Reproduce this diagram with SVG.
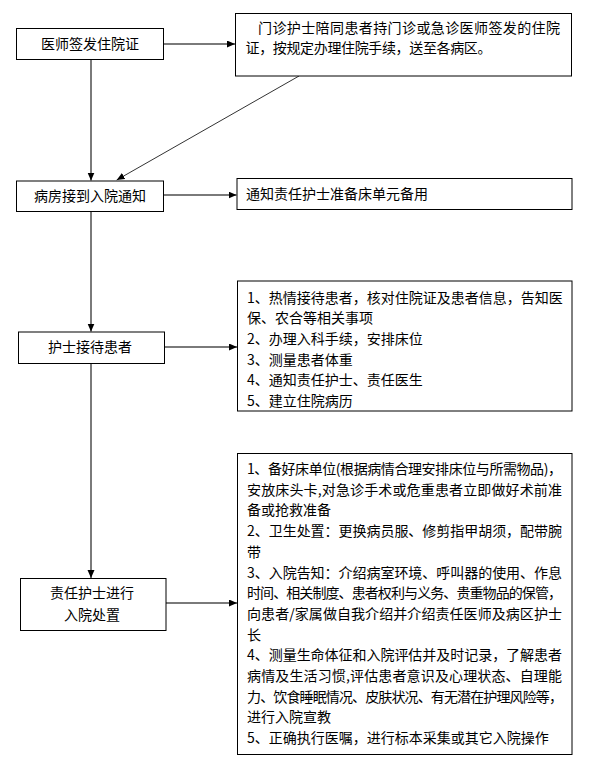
<svg xmlns="http://www.w3.org/2000/svg" width="609" height="765" viewBox="0 0 609 765">
<defs>
<style>
.box{fill:#fff;stroke:#000;stroke-width:1}
.t{font-family:"Noto Sans CJK SC","Liberation Sans",sans-serif;font-size:14px;fill:#000}
.c{text-anchor:middle}
.ln{stroke:#7a7a7a;stroke-width:2;fill:none}
.dg{stroke:#333;stroke-width:1;fill:none}
</style>
<marker id="ah" markerUnits="userSpaceOnUse" markerWidth="9" markerHeight="8" refX="8" refY="3.5" orient="auto">
<path d="M0,0 L8,3.5 L0,7 z" fill="#000"/>
</marker>
</defs>
<rect width="609" height="765" fill="#fff"/>
<g id="connectors">
<line class="ln" x1="91" y1="59.5" x2="91" y2="180.5" marker-end="url(#ah)"/>
<line class="ln" x1="91" y1="211.5" x2="91" y2="331.5" marker-end="url(#ah)"/>
<line class="ln" x1="91" y1="363.5" x2="91" y2="578" marker-end="url(#ah)"/>
<line class="ln" x1="163.5" y1="44" x2="235" y2="44" marker-end="url(#ah)"/>
<line class="ln" x1="163.5" y1="195" x2="236.5" y2="195" marker-end="url(#ah)"/>
<line class="ln" x1="164.5" y1="347" x2="237" y2="347" marker-end="url(#ah)"/>
<line class="ln" x1="166" y1="603" x2="237" y2="603" marker-end="url(#ah)"/>
<line class="dg" x1="299" y1="76" x2="116.7" y2="180" marker-end="url(#ah)"/>
</g>
<g id="n1">
<rect class="box" x="16.5" y="28.5" width="147" height="31"/>
<text class="t c" x="90" y="48.5">医师签发住院证</text>
</g>
<g id="n2">
<rect class="box" x="235.5" y="13.5" width="336" height="62.5"/>
<text class="t" x="258" y="33" textLength="302">门诊护士陪同患者持门诊或急诊医师签发的住院</text>
<text class="t" x="245.5" y="53" textLength="246">证，按规定办理住院手续，送至各病区。</text>
</g>
<g id="n3">
<rect class="box" x="16.5" y="181" width="147" height="30.5"/>
<text class="t c" x="90" y="201">病房接到入院通知</text>
</g>
<g id="n4">
<rect class="box" x="237" y="178.5" width="335" height="31"/>
<text class="t" x="246" y="198.5">通知责任护士准备床单元备用</text>
</g>
<g id="n5">
<rect class="box" x="18.5" y="332" width="146" height="31.5"/>
<text class="t c" x="90" y="352.3">护士接待患者</text>
</g>
<g id="n6">
<rect class="box" x="237.5" y="281" width="334.5" height="130"/>
<text class="t" x="247" y="302.7">1、热情接待患者，核对住院证及患者信息，告知医</text>
<text class="t" x="247" y="323.3">保、农合等相关事项</text>
<text class="t" x="247" y="343.9">2、办理入科手续，安排床位</text>
<text class="t" x="247" y="364.5">3、测量患者体重</text>
<text class="t" x="247" y="385.1">4、通知责任护士、责任医生</text>
<text class="t" x="247" y="405.7">5、建立住院病历</text>
</g>
<g id="n7">
<rect class="box" x="20.5" y="578.5" width="145.5" height="52"/>
<text class="t c" x="92" y="598.3">责任护士进行</text>
<text class="t c" x="92" y="620">入院处置</text>
</g>
<g id="n8">
<rect class="box" x="237.5" y="453.5" width="334.5" height="301"/>
<text class="t" x="247" y="474" textLength="315">1、备好床单位(根据病情合理安排床位与所需物品)，</text>
<text class="t" x="247" y="494.7" textLength="315">安放床头卡,对急诊手术或危重患者立即做好术前准</text>
<text class="t" x="247" y="515.4">备或抢救准备</text>
<text class="t" x="247" y="536.1" textLength="315">2、卫生处置：更换病员服、修剪指甲胡须，配带腕</text>
<text class="t" x="247" y="556.8">带</text>
<text class="t" x="247" y="577.5" textLength="315">3、入院告知：介绍病室环境、呼叫器的使用、作息</text>
<text class="t" x="247" y="598.2" textLength="315">时间、相关制度、患者权利与义务、贵重物品的保管，</text>
<text class="t" x="247" y="618.9" textLength="315">向患者/家属做自我介绍并介绍责任医师及病区护士</text>
<text class="t" x="247" y="639.6">长</text>
<text class="t" x="247" y="660.3" textLength="315">4、测量生命体征和入院评估并及时记录，了解患者</text>
<text class="t" x="247" y="681" textLength="315">病情及生活习惯,评估患者意识及心理状态、自理能</text>
<text class="t" x="247" y="701.7" textLength="316">力、饮食睡眠情况、皮肤状况、有无潜在护理风险等，</text>
<text class="t" x="247" y="722.4">进行入院宣教</text>
<text class="t" x="247" y="743.1">5、正确执行医嘱，进行标本采集或其它入院操作</text>
</g>
</svg>
